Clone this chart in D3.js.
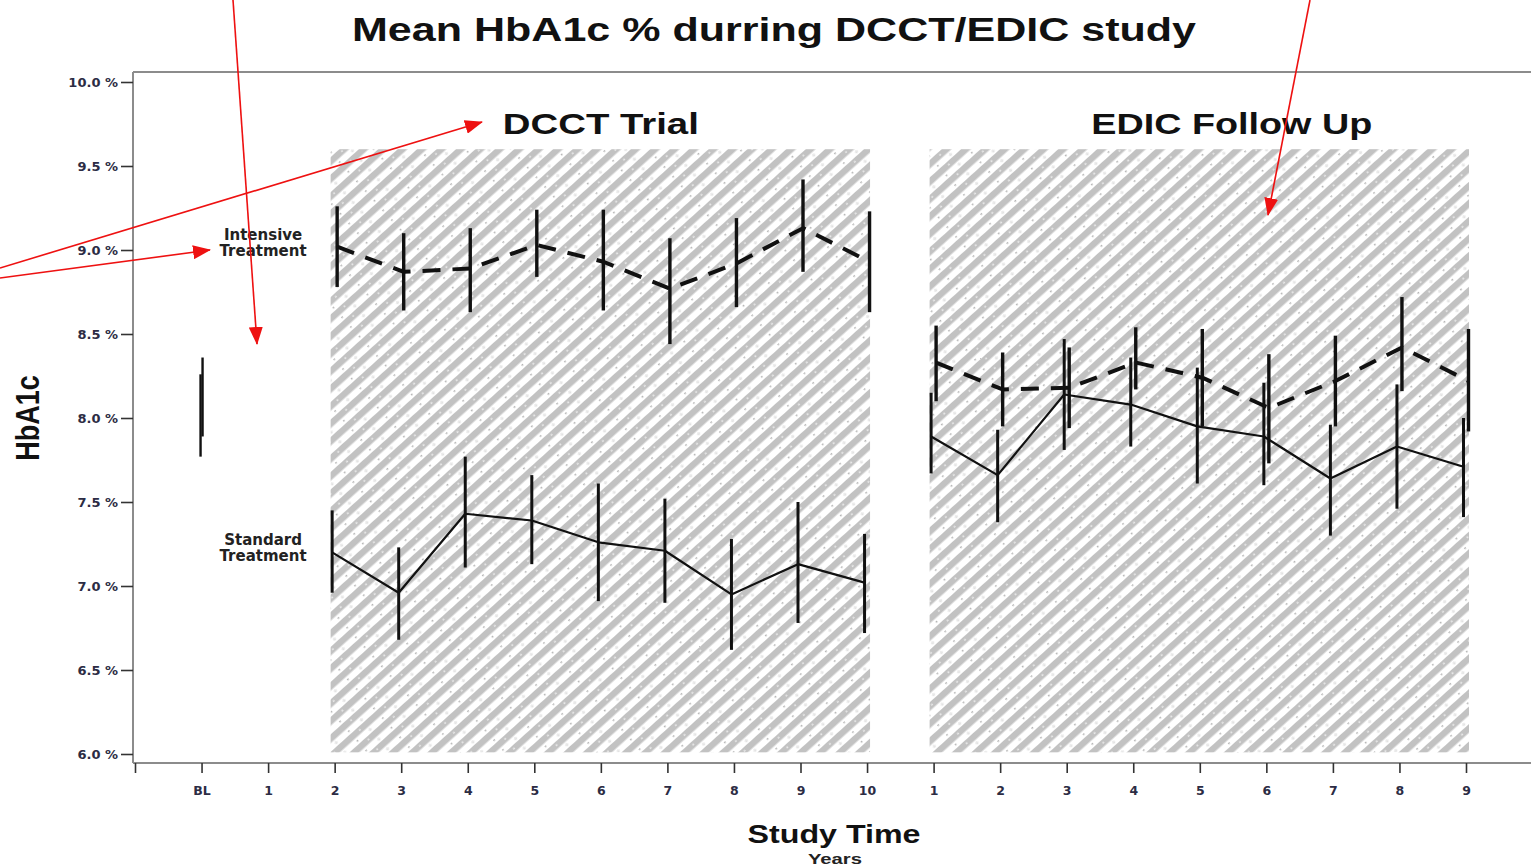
<!DOCTYPE html>
<html>
<head>
<meta charset="utf-8">
<script src="https://cdn.jsdelivr.net/npm/d3@7"></script>
<style>
  html, body { margin: 0; padding: 0; background: #fff; }
  svg { display: block; }
</style>
</head>
<body>
<svg id="chart" width="1531" height="866"></svg>
<script>
// Time points on the x axis: an empty lead-in slot, baseline, DCCT years 1-10, EDIC years 1-9
const timeKeys = ["pad", "BL", "D1", "D2", "D3", "D4", "D5", "D6", "D7", "D8", "D9", "D10",
                  "E1", "E2", "E3", "E4", "E5", "E6", "E7", "E8", "E9"];
const timeLabels = ["", "BL", "1", "2", "3", "4", "5", "6", "7", "8", "9", "10",
                    "1", "2", "3", "4", "5", "6", "7", "8", "9"];
const yTicks = [6.0, 6.5, 7.0, 7.5, 8.0, 8.5, 9.0, 9.5, 10.0];

const dcctYears = ["D2", "D3", "D4", "D5", "D6", "D7", "D8", "D9", "D10"];
const edicYears = ["E1", "E2", "E3", "E4", "E5", "E6", "E7", "E8", "E9"];

// Baseline HbA1c (intensive, standard)
const baselineMean = [8.12, 8.01];
const baselineLow  = [7.89, 7.77];
const baselineHigh = [8.36, 8.26];

// DCCT trial years 2-10
const intensiveDcctMean = [9.02, 8.87, 8.89, 9.03, 8.93, 8.77, 8.92, 9.13, 8.93];
const intensiveDcctLow  = [8.78, 8.64, 8.63, 8.84, 8.64, 8.44, 8.66, 8.87, 8.63];
const intensiveDcctHigh = [9.26, 9.10, 9.13, 9.24, 9.24, 9.07, 9.19, 9.42, 9.23];

const standardDcctMean = [7.20, 6.96, 7.43, 7.39, 7.26, 7.21, 6.95, 7.13, 7.02];
const standardDcctLow  = [6.96, 6.68, 7.11, 7.13, 6.91, 6.90, 6.62, 6.78, 6.72];
const standardDcctHigh = [7.45, 7.23, 7.77, 7.66, 7.61, 7.52, 7.28, 7.50, 7.31];

// EDIC follow-up years 1-9
const intensiveEdicMean = [8.33, 8.17, 8.18, 8.33, 8.24, 8.06, 8.22, 8.42, 8.22];
const intensiveEdicLow  = [8.10, 7.95, 7.94, 8.17, 7.95, 7.73, 7.95, 8.16, 7.92];
const intensiveEdicHigh = [8.55, 8.39, 8.42, 8.54, 8.53, 8.38, 8.49, 8.72, 8.53];

const standardEdicMean = [7.89, 7.66, 8.14, 8.08, 7.95, 7.89, 7.64, 7.83, 7.71];
const standardEdicLow  = [7.67, 7.38, 7.81, 7.83, 7.61, 7.60, 7.30, 7.46, 7.41];
const standardEdicHigh = [8.15, 7.93, 8.47, 8.36, 8.30, 8.21, 7.96, 8.20, 8.00];

// Study phases shaded on the chart
const phaseNames = ["DCCT Trial", "EDIC Follow Up"];
const phaseStart = ["D2", "E1"];
const phaseEnd   = ["D10", "E9"];
const phaseTop = 9.6;
const phaseBottom = 6.01;

// ---------------------------------------------------------------
const svg = d3.select("#chart");
const W = 1531, H = 866;
const axisLeftX = 133, frameTop = 72, axisBaseY = 763;
const boldSans = "'Liberation Sans', Arial, Helvetica, sans-serif";
const tickFont = "'DejaVu Sans', Verdana, sans-serif";

const x = d3.scalePoint().domain(timeKeys).range([135, 1466]);
const y = d3.scaleLinear().domain([6, 10]).range([754, 82]);

// hatch pattern for the phase panels
const defs = svg.append("defs");
const pat = defs.append("pattern")
  .attr("id", "phaseHatch")
  .attr("patternUnits", "userSpaceOnUse")
  .attr("width", 34).attr("height", 13)
  .attr("patternTransform", "rotate(-42)");
pat.append("rect").attr("width", 34).attr("height", 13).attr("fill", "#fff");
pat.append("rect").attr("y", 0).attr("width", 34).attr("height", 6.5).attr("fill", "#c2c2c2");
pat.append("circle").attr("cx", 8).attr("cy", 9.8).attr("r", 0.8).attr("fill", "#8c8c8c");
pat.append("circle").attr("cx", 25).attr("cy", 9.8).attr("r", 1.1)
  .attr("fill", "#fff").attr("stroke", "#c8c8c8").attr("stroke-width", 0.6);
pat.append("circle").attr("cx", 17).attr("cy", 3.2).attr("r", 0.9).attr("fill", "#f2f2f2");

// red annotation arrowhead
defs.append("marker")
  .attr("id", "redHead")
  .attr("markerUnits", "userSpaceOnUse")
  .attr("markerWidth", 18).attr("markerHeight", 14)
  .attr("refX", 17).attr("refY", 7)
  .attr("orient", "auto")
  .append("path").attr("d", "M0,0 L18,7 L0,14 Z").attr("fill", "#ee1111");

// Title
svg.append("text")
  .attr("x", 774).attr("y", 41)
  .attr("text-anchor", "middle")
  .attr("font-family", boldSans).attr("font-weight", "bold")
  .attr("font-size", 33).attr("fill", "#111")
  .attr("textLength", 844).attr("lengthAdjust", "spacingAndGlyphs")
  .text("Mean HbA1c % durring DCCT/EDIC study");

// Phase panels
const phases = phaseNames.map((name, i) => ({ name, start: phaseStart[i], end: phaseEnd[i] }));
svg.append("g").selectAll("rect").data(phases).join("rect")
  .attr("x", d => x(d.start) - 4)
  .attr("y", y(phaseTop))
  .attr("width", d => x(d.end) - x(d.start) + 7)
  .attr("height", y(phaseBottom) - y(phaseTop))
  .attr("fill", "url(#phaseHatch)");

const phaseLabelShift = [0, 32];
const phaseLabelWidth = [196, 281];
svg.append("g").selectAll("text").data(phases).join("text")
  .attr("x", (d, i) => (x(d.start) + x(d.end)) / 2 + phaseLabelShift[i])
  .attr("y", 134)
  .attr("text-anchor", "middle")
  .attr("font-family", boldSans).attr("font-weight", "bold")
  .attr("font-size", 30).attr("fill", "#111")
  .attr("textLength", (d, i) => phaseLabelWidth[i]).attr("lengthAdjust", "spacingAndGlyphs")
  .text(d => d.name);

// Frame lines
const frame = svg.append("g").attr("stroke", "#8c8c8c").attr("stroke-width", 2).attr("fill", "none");
frame.append("line").attr("x1", axisLeftX).attr("x2", axisLeftX).attr("y1", frameTop).attr("y2", axisBaseY);
frame.append("line").attr("x1", axisLeftX).attr("x2", W).attr("y1", frameTop).attr("y2", frameTop);
frame.append("line").attr("x1", axisLeftX).attr("x2", W).attr("y1", axisBaseY).attr("y2", axisBaseY);

// Y axis
const yAxisG = svg.append("g")
  .attr("transform", `translate(${axisLeftX},0)`)
  .call(d3.axisLeft(y).tickValues(yTicks).tickSize(12).tickPadding(3)
        .tickFormat(d => d.toFixed(1) + " %"));
yAxisG.select(".domain").remove();
yAxisG.selectAll(".tick line").attr("stroke", "#333").attr("stroke-width", 1.6);
yAxisG.selectAll(".tick text")
  .attr("font-family", tickFont).attr("font-weight", "bold")
  .attr("font-size", 13).attr("fill", "#2c2c44");

// X axis
const xAxisG = svg.append("g")
  .attr("transform", `translate(0,${axisBaseY})`)
  .call(d3.axisBottom(x).tickSize(10).tickPadding(13)
        .tickFormat((d, i) => timeLabels[i]));
xAxisG.select(".domain").remove();
xAxisG.selectAll(".tick line").attr("stroke", "#333").attr("stroke-width", 1.6);
xAxisG.selectAll(".tick text")
  .attr("font-family", tickFont).attr("font-weight", "bold")
  .attr("font-size", 12.5).attr("fill", "#2c2c44");

// Axis titles
svg.append("text")
  .attr("transform", "translate(39,418) scale(1.2,1) rotate(-90)")
  .attr("text-anchor", "middle")
  .attr("font-family", boldSans).attr("font-weight", "bold")
  .attr("font-size", 27).attr("fill", "#111")
  .text("HbA1c");

svg.append("text")
  .attr("x", 834).attr("y", 843)
  .attr("text-anchor", "middle")
  .attr("font-family", boldSans).attr("font-weight", "bold")
  .attr("font-size", 26).attr("fill", "#111")
  .attr("textLength", 173).attr("lengthAdjust", "spacingAndGlyphs")
  .text("Study Time");

svg.append("text")
  .attr("x", 835).attr("y", 864)
  .attr("text-anchor", "middle")
  .attr("font-family", boldSans).attr("font-weight", "bold")
  .attr("font-size", 15).attr("fill", "#222")
  .attr("textLength", 54).attr("lengthAdjust", "spacingAndGlyphs")
  .text("Years");

// Series
function rows(keys, mean, low, high) {
  return keys.map((k, i) => ({ key: k, mean: mean[i], low: low[i], high: high[i] }));
}
const intensiveDcct = rows(dcctYears, intensiveDcctMean, intensiveDcctLow, intensiveDcctHigh);
const standardDcct  = rows(dcctYears, standardDcctMean, standardDcctLow, standardDcctHigh);
const intensiveEdic = rows(edicYears, intensiveEdicMean, intensiveEdicLow, intensiveEdicHigh);
const standardEdic  = rows(edicYears, standardEdicMean, standardEdicLow, standardEdicHigh);
const baseline = [
  { key: "BL", mean: baselineMean[0], low: baselineLow[0], high: baselineHigh[0], shift: 1 },
  { key: "BL", mean: baselineMean[1], low: baselineLow[1], high: baselineHigh[1], shift: -1 }
];

const dodgeIntensive = 2.5, dodgeStandard = -2.5;
const marks = svg.append("g");

function drawSeries(data, dodge, dashed) {
  const line = d3.line().x(d => x(d.key) + dodge).y(d => y(d.mean));
  marks.append("path")
    .datum(data)
    .attr("d", line)
    .attr("fill", "none")
    .attr("stroke", "#111")
    .attr("stroke-width", dashed ? 4 : 2.2)
    .attr("stroke-dasharray", dashed ? "18,12" : null)
    .attr("stroke-linejoin", "round");
  marks.append("g").selectAll("line").data(data).join("line")
    .attr("x1", d => x(d.key) + dodge).attr("x2", d => x(d.key) + dodge)
    .attr("y1", d => y(d.high)).attr("y2", d => y(d.low))
    .attr("stroke", "#111")
    .attr("stroke-width", dashed ? 3.4 : 3);
}
drawSeries(standardDcct, dodgeStandard, false);
drawSeries(standardEdic, dodgeStandard, false);
drawSeries(intensiveDcct, dodgeIntensive, true);
drawSeries(intensiveEdic, dodgeIntensive, true);

marks.append("g").selectAll("line").data(baseline).join("line")
  .attr("x1", d => x(d.key) + d.shift).attr("x2", d => x(d.key) + d.shift)
  .attr("y1", d => y(d.high)).attr("y2", d => y(d.low))
  .attr("stroke", "#111").attr("stroke-width", 2.4);

// Group labels beside the first DCCT year
function groupLabel(lines, value) {
  const t = svg.append("text")
    .attr("text-anchor", "middle")
    .attr("font-family", tickFont).attr("font-weight", "bold")
    .attr("font-size", 15).attr("fill", "#222");
  lines.forEach((s, i) => {
    t.append("tspan")
      .attr("x", x("D1") - 5)
      .attr("y", y(value) + (i === 0 ? -7 : 9))
      .text(s);
  });
}
groupLabel(["Intensive", "Treatment"], intensiveDcctMean[0]);
groupLabel(["Standard", "Treatment"], standardDcctMean[0]);

// Red call-out arrows
const arrows = [
  { x1: 0, y1: 268, x2: 482, y2: 122 },
  { x1: 0, y1: 278, x2: 210, y2: 250 },
  { x1: 233, y1: 0, x2: 257, y2: 344 },
  { x1: 1310, y1: 0, x2: 1268, y2: 215 }
];
svg.append("g").selectAll("line").data(arrows).join("line")
  .attr("x1", d => d.x1).attr("y1", d => d.y1)
  .attr("x2", d => d.x2).attr("y2", d => d.y2)
  .attr("stroke", "#ee1111").attr("stroke-width", 1.6)
  .attr("marker-end", "url(#redHead)");
</script>
</body>
</html>
